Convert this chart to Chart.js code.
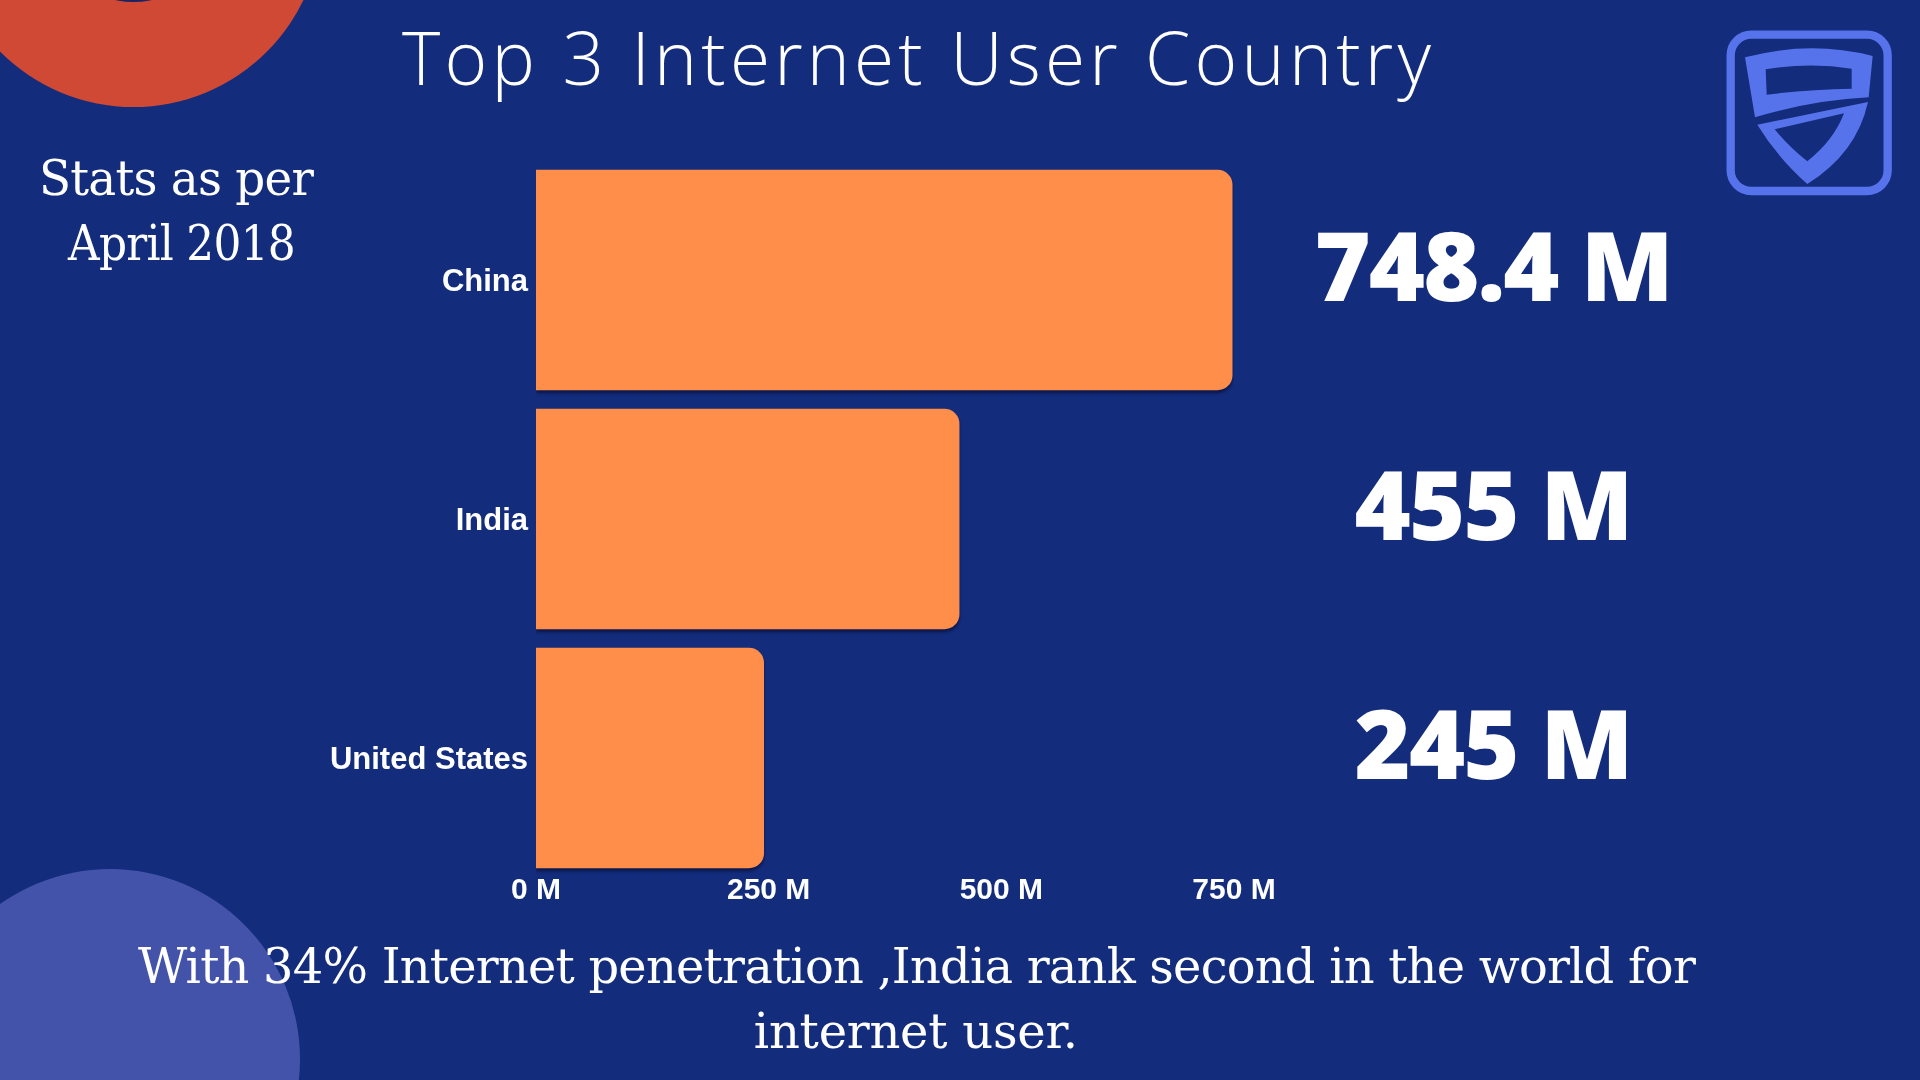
<!DOCTYPE html>
<html>
<head>
<meta charset="utf-8">
<script src="https://cdn.jsdelivr.net/npm/chart.js@4.4.1/dist/chart.umd.min.js"></script>
<style>
  html, body { margin:0; padding:0; }
  body { width:1920px; height:1080px; overflow:hidden; background:#132C7C; position:relative; }
  .circle { position:absolute; border-radius:50%; }
  #c { position:absolute; left:0; top:0; }
  .txt { position:absolute; white-space:nowrap; color:#fff; line-height:normal; transform-origin:0 0; }
  #logo { position:absolute; left:1700px; top:0; width:220px; height:220px; }
</style>
</head>
<body>
<div class="circle" style="left:-55.5px; top:-270px; width:377px; height:377px; background:#D04935;"></div>
<div class="circle" style="left:49.5px; top:-165px; width:167px; height:167px; background:#1B2461;"></div>
<div class="circle" style="left:-80px; top:869px; width:380px; height:380px; background:#4353AA;"></div>

<svg id="logo" viewBox="0 0 660 660" xmlns="http://www.w3.org/2000/svg">
  <rect x="92" y="104" width="471" height="469" rx="62" ry="62" fill="none" stroke="#5673EC" stroke-width="25"/>
  <path fill="#5673EC" fill-rule="evenodd"
    d="M135,172 Q330,120 518,168 L506,292 Q340,300 165,352 Z
       M197,208 Q330,186 455,206 L455,266 Q330,268 200,284 Z"/>
  <path fill="#5673EC" fill-rule="evenodd"
    d="M172,374 L504,306 Q470,460 322,552 Q232,472 172,374 Z
       M224,388 L432,340 Q402,420 322,484 Q266,440 224,388 Z"/>
</svg>

<canvas id="c" width="1920" height="1080"></canvas>

<div class="txt" id="title" style="font-family:'Open Sans'; font-weight:300; font-size:73px;">Top 3 Internet User Country</div>
<div class="txt" id="stats1" style="font-family:'DejaVu Serif'; font-size:49px;">Stats as per</div>
<div class="txt" id="stats2" style="font-family:'DejaVu Serif'; font-size:49px;">April 2018</div>
<div class="txt" id="note1" style="font-family:'DejaVu Serif'; font-size:48px;">With 34% Internet penetration ,India rank second in the world for</div>
<div class="txt" id="note2" style="font-family:'DejaVu Serif'; font-size:48px;">internet user.</div>

<script>
// ---- data ----
const categories = ['China', 'India', 'United States'];
const users = [748.4, 455, 245];          // millions
const valueLabels = ['748.4 M', '455 M', '245 M'];
const xTickValues = [0, 250, 500, 750];
const tickSuffix = ' M';

// ---- text placement helper ----
function placeText(id, cx, baseline, targetW, minLs) {
  const el = document.getElementById(id);
  const marker = document.createElement('span');
  marker.style.cssText = 'display:inline-block;width:0;height:0;vertical-align:baseline;';
  el.appendChild(marker);
  const n = el.textContent.length;
  let w = el.getBoundingClientRect().width;
  let ls = (targetW - w) / n;
  let sx = 1;
  if (minLs !== undefined && ls < minLs) {
    ls = minLs;
    sx = targetW / (w + n * ls);
  }
  el.style.letterSpacing = ls + 'px';
  const w2 = (el.getBoundingClientRect().width - ls) * sx;
  el.style.transform = 'scaleX(' + sx + ')';
  el.style.left = (cx - w2 / 2) + 'px';
  el.style.top = (baseline - marker.offsetTop) + 'px';
}
placeText('title', 916.5, 85, 1033);
placeText('stats1', 176, 195, 274, -0.8);
placeText('stats2', 181.5, 260, 227, -0.8);
placeText('note1', 916.5, 983, 1557, -0.8);
placeText('note2', 916, 1048, 324, -0.8);

// ---- chart ----
Chart.defaults.font.family = "'Liberation Sans', Arial, sans-serif";
Chart.defaults.color = '#ffffff';

const barShadow = {
  id: 'barShadow',
  beforeDatasetsDraw(chart) {
    const c = chart.ctx;
    c.save();
    c.shadowColor = 'rgba(8,12,45,0.6)';
    c.shadowBlur = 3;
    c.shadowOffsetX = 0;
    c.shadowOffsetY = 3;
  },
  afterDatasetsDraw(chart) { chart.ctx.restore(); }
};

const valueLabelPlugin = {
  id: 'valueLabels',
  afterDraw(chart) {
    const ctx = chart.ctx;
    const meta = chart.getDatasetMeta(0);
    ctx.save();
    ctx.font = "800 96px 'Open Sans', sans-serif";
    ctx.fillStyle = '#ffffff';
    ctx.textAlign = 'center';
    ctx.textBaseline = 'alphabetic';
    ctx.letterSpacing = '0px';
    const w0 = ctx.measureText(valueLabels[0]).width;
    const ls = (357 - w0) / valueLabels[0].length;
    ctx.letterSpacing = ls + 'px';
    const cx = chart.chartArea.right + 260;
    meta.data.forEach((bar, i) => {
      ctx.fillText(valueLabels[i], cx + ls / 2, bar.y + 21);
    });
    ctx.restore();
  }
};

new Chart(document.getElementById('c'), {
  type: 'bar',
  data: {
    labels: categories,
    datasets: [{
      data: users,
      backgroundColor: '#FF8E4B',
      borderRadius: 15,
      borderSkipped: 'start',
      barPercentage: 0.922,
      categoryPercentage: 1
    }]
  },
  options: {
    indexAxis: 'y',
    responsive: false,
    animation: false,
    devicePixelRatio: 1,
    layout: { padding: { top: 160.5, right: 686, bottom: 0, left: 0 } },
    plugins: { legend: { display: false }, tooltip: { enabled: false } },
    scales: {
      x: {
        min: 0, max: 750,
        afterBuildTicks(scale) { scale.ticks = xTickValues.map(v => ({ value: v })); },
        afterFit(scale) { scale.height = 202.5; },
        grid: { display: false, drawTicks: false },
        border: { display: false },
        ticks: {
          color: '#ffffff',
          padding: -5,
          font: { size: 30, weight: 'bold' },
          callback: v => v + tickSuffix
        }
      },
      y: {
        afterFit(scale) { scale.width = 536; },
        grid: { display: false, drawTicks: false },
        border: { display: false },
        ticks: {
          color: '#ffffff',
          padding: 8,
          labelOffset: 2.5,
          font: { size: 31, weight: 'bold' }
        }
      }
    }
  },
  plugins: [barShadow, valueLabelPlugin]
});
</script>
</body>
</html>
